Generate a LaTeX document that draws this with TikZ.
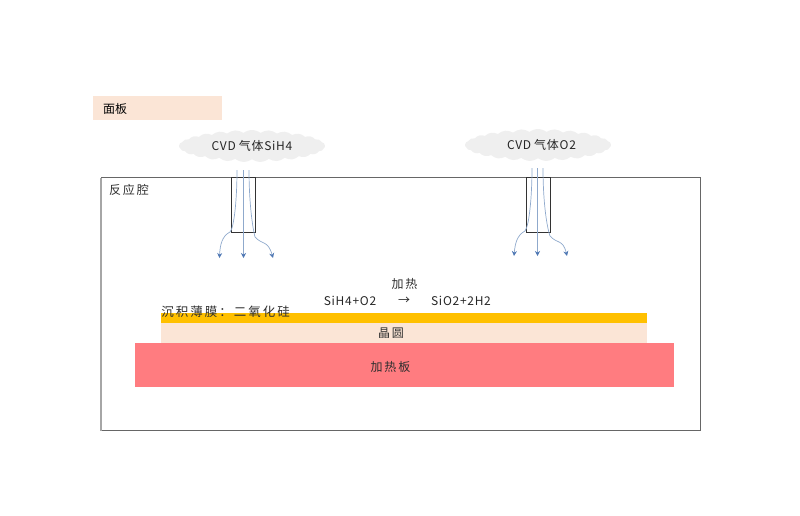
\documentclass[tikz,border=0pt]{standalone}
\usepackage{fontspec}
\setmainfont{Noto Sans CJK SC}
\newfontfamily\cjkwide[LetterSpace=16]{Noto Sans CJK SC}
\newfontfamily\latwide[LetterSpace=6]{Noto Sans CJK SC}
\usetikzlibrary{shapes.symbols,arrows.meta}
\definecolor{panelc}{HTML}{FBE5D6}
\definecolor{cloudc}{HTML}{EFEFEF}
\definecolor{flowc}{HTML}{8FA9CC}
\definecolor{tipc}{HTML}{4F78B4}
\definecolor{filmc}{HTML}{FFC000}
\definecolor{heatc}{HTML}{FF7C80}
\tikzset{
  lbl/.style={inner sep=0pt,text=black!82,font=\cjkwide\fontsize{12}{13}\selectfont},
  lat/.style={inner sep=0pt,text=black!85,font=\latwide\fontsize{12}{13}\selectfont},
  gas/.style={cloud,cloud puffs=27,cloud puff arc=75,fill=cloudc,draw=none,minimum width=146pt,minimum height=32pt,inner sep=0pt,aspect=4.6,text=black!85,font=\latwide\fontsize{12}{13}\selectfont},
  tube/.style={draw=black!80,line width=0.9pt,fill=none},
  flow/.style={draw=flowc,line width=0.7pt,-{Stealth[length=5pt,width=5pt,color=tipc]}},
  bandbox/.style={draw=none,inner sep=0pt,outer sep=0pt,anchor=north west}
}
\begin{document}
\begin{tikzpicture}[x=1pt,y=-1pt]
\useasboundingbox (0,0) rectangle (800,515);
% panel
\node[bandbox,fill=panelc,minimum width=129pt,minimum height=24pt] (panel) at (93,96) {};
\node[inner sep=0pt,font=\fontsize{12}{13}\selectfont] (paneltxt) at (115,108.5) {面板};
% chamber
\node[bandbox,draw=black!60,line width=0.7pt,minimum width=599pt,minimum height=253pt] (chamber) at (101,177.5) {};
\draw[black!35,line width=1.8pt] (chamber.north west) -- (chamber.south west);
\node[lbl] (chambertxt) at (129,190) {反应腔};
% layers
\node[bandbox,fill=panelc,minimum width=486pt,minimum height=20pt] (wafer) at (161,323) {};
\node[bandbox,fill=filmc,minimum width=486pt,minimum height=10.5pt] (film) at (161,312.5) {};
\node[bandbox,fill=heatc,minimum width=539pt,minimum height=44.5pt] (heater) at (135,342.5) {};
\node[lbl] (wafertxt) at (391,333) {晶圆};
\node[lbl] (heatertxt) at (390.5,367) {加热板};
\node[lbl,font=\cjkwide\fontsize{12.5}{13}\selectfont] (filmtxt) at (225.5,312) {沉积薄膜：二氧化硅};
\node[lbl] (heat) at (404.5,284) {加热};
\node[lat] (react) at (350,300.5) {SiH4+O2};
\node[lat] (arrowtxt) at (404,300.5) {→};
\node[lat] (prod) at (461,300.5) {SiO2+2H2};
% clouds
\node[gas] (c1) at (252,146) {CVD\hspace{3pt}气体SiH4\hspace{3pt}};
\node[gas] (c2) at (538,145) {\hspace{7pt}CVD\hspace{3pt}气体O2};
% tubes
\node[bandbox,tube,minimum width=24pt,minimum height=55pt] (t1) at (231,177) {};
\node[bandbox,tube,minimum width=24pt,minimum height=55pt] (t2) at (526,177) {};
% flows 1
\coordinate (a1) at (237,170); \coordinate (a2) at (243.5,170); \coordinate (a3) at (249,170);
\coordinate (e1) at (219.5,258); \coordinate (e2) at (243.5,258); \coordinate (e3) at (273,258);
\draw[flow] (a1) .. controls (237,200) and (234,228) .. (230,232) .. controls (222,236) and (220,245) .. (e1);
\draw[flow] (a2) -- (e2);
\draw[flow] (a3) .. controls (249,200) and (252,225) .. (255,237) .. controls (262,245) and (268,240) .. (e3);
% flows 2
\coordinate (b1) at (532,168); \coordinate (b2) at (537.5,168); \coordinate (b3) at (543,168);
\coordinate (f1) at (514,256); \coordinate (f2) at (537.5,256); \coordinate (f3) at (567,256);
\draw[flow] (b1) .. controls (532,198) and (529,226) .. (525,231) .. controls (517,235) and (515,244) .. (f1);
\draw[flow] (b2) -- (f2);
\draw[flow] (b3) .. controls (543,198) and (546,224) .. (550,236) .. controls (557,244) and (563,239) .. (f3);
\end{tikzpicture}
\end{document}
